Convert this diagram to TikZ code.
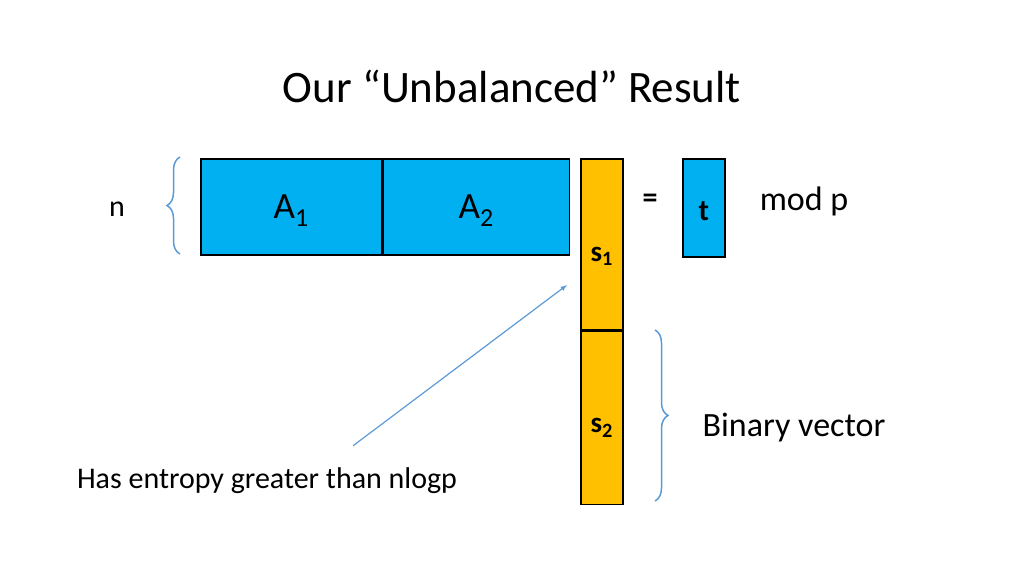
\documentclass[tikz,border=0pt]{standalone}
\usepackage{fontspec}
\setmainfont{Carlito}
\usetikzlibrary{positioning,calc,decorations.pathreplacing}
\definecolor{matblue}{HTML}{00B0F0}
\definecolor{vecorange}{HTML}{FFC000}
\definecolor{bracecol}{HTML}{5B9BD5}

\begin{document}
\begin{tikzpicture}
  [x=1pt,y=-1pt,
  block/.style={draw, line width=1.5pt, inner sep=0pt, anchor=north west},
  label/.style={font=\fontsize{30}{34}\selectfont, inner sep=0pt},
  curly/.style={decorate, decoration={brace, amplitude=13pt}, draw=bracecol, line width=1.5pt}
  ]
  \useasboundingbox (0,0) rectangle (1024,576);

  \node[font=\fontsize{45}{52}\selectfont] (title) at (512,86) {Our “Unbalanced” Result};

  % matrice A
  \node[block, fill=matblue, minimum width=181pt, minimum height=96pt] (aone) at (200,158) {};
  \node[block, fill=matblue, minimum width=186pt, minimum height=96pt, anchor=north west] (atwo) at (aone.north east) {};
  \node[font=\fontsize{37}{42}\selectfont] at ($(aone.center)+(0,4)$) {A$_{\mathrm{1}}$};
  \node[font=\fontsize{37}{42}\selectfont] at ($(atwo.center)+(0,4)$) {A$_{\mathrm{2}}$};

  % vettore s
  \node[block, fill=vecorange, minimum width=42pt, minimum height=171pt] (sone) at (580,158) {};
  \node[block, fill=vecorange, minimum width=42pt, minimum height=173pt, anchor=north west] (stwo) at (sone.south west) {};
  \node[font=\bfseries\fontsize{29}{33}\selectfont] (sonelabel) at ($(sone.south)+(0,-74)$) {s$_{\mathbf{1}}$};
  \node[font=\bfseries\fontsize{29}{33}\selectfont] (stwolabel) at ($(stwo.center)+(0,10)$) {s$_{\mathbf{2}}$};

  % = t mod p
  \node[font=\bfseries\fontsize{30}{34}\selectfont, inner sep=0pt] (eq) at (650,201) {=};
  \node[block, fill=matblue, minimum width=42pt, minimum height=98pt] (t) at (682,158) {};
  \node[font=\bfseries\fontsize{30}{34}\selectfont] at ($(t.center)+(0,3)$) {t};
  \node[label, font=\fontsize{34}{38}\selectfont] (modp) at (804,201) {mod p};

  % graffe
  \draw[curly] (180,254) -- (180,157) coordinate (nbrace);
  \node[label] (n) at (117,209) {n};
  \draw[curly] (655,330) -- (655,501);
  \node[label, font=\fontsize{34}{38}\selectfont] (binary) at (794,428) {Binary vector};

  % entropia
  \node[label] (entropy) at (267,481) {Has entropy greater than nlogp};
  \coordinate (arrowtip) at (567,285);
  \draw[-latex, bracecol, line width=1.2pt] ($(entropy.north)+(86,-22)$) -- (arrowtip);
\end{tikzpicture}
\end{document}
